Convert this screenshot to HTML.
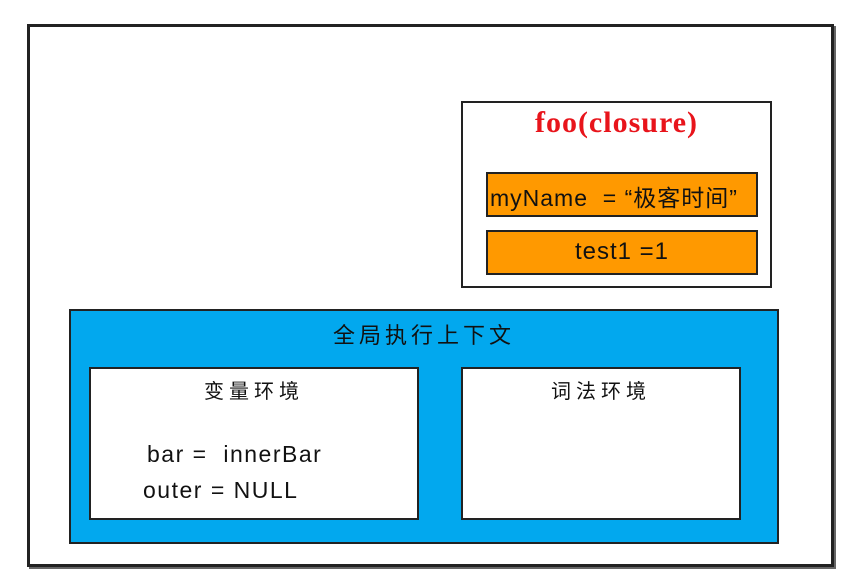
<!DOCTYPE html>
<html><head><meta charset="utf-8"><style>
body{margin:0;width:847px;height:574px;background:#fff;position:relative;overflow:hidden;font-family:"Liberation Sans","Noto Sans CJK SC",sans-serif}
div{position:absolute;box-sizing:border-box}
.t{white-space:nowrap;color:#111}
</style></head><body>
<div style="left:27px;top:24px;width:807px;height:543px;border:3px solid #222;box-shadow:2px 2px 0 #666"></div>
<div style="left:461px;top:101px;width:311px;height:187px;border:2px solid #222"></div>
<div class="t" style="left:461px;top:106px;width:311px;text-align:center;color:#e8141b;font:bold 30px 'Liberation Serif',serif;letter-spacing:1px">foo(closure)</div>
<div style="left:486px;top:172px;width:272px;height:45px;background:#ff9900;border:2px solid #222"></div>
<div class="t" style="left:490px;top:179px;font-size:23px;letter-spacing:1px">myName&nbsp; = “极客时间”</div>
<div style="left:486px;top:230px;width:272px;height:45px;background:#ff9900;border:2px solid #222"></div>
<div class="t" style="left:486px;top:238px;width:272px;text-align:center;font-size:24px;letter-spacing:1px">test1 =1</div>
<div style="left:69px;top:309px;width:710px;height:235px;background:#02a8ee;border:2px solid #222"></div>
<div class="t" style="left:69px;top:318px;width:710px;text-align:center;font-size:22px;letter-spacing:4px">全局执行上下文</div>
<div style="left:89px;top:367px;width:330px;height:153px;background:#fff;border:2px solid #222"></div>
<div class="t" style="left:89px;top:375px;width:330px;text-align:center;font-size:20px;letter-spacing:5px">变量环境</div>
<div class="t" style="left:147px;top:441px;font-size:23px;letter-spacing:1.5px">bar =&nbsp; innerBar</div>
<div class="t" style="left:143px;top:477px;font-size:23px;letter-spacing:1.5px">outer = NULL</div>
<div style="left:461px;top:367px;width:280px;height:153px;background:#fff;border:2px solid #222"></div>
<div class="t" style="left:461px;top:375px;width:280px;text-align:center;font-size:20px;letter-spacing:5px">词法环境</div>
</body></html>
